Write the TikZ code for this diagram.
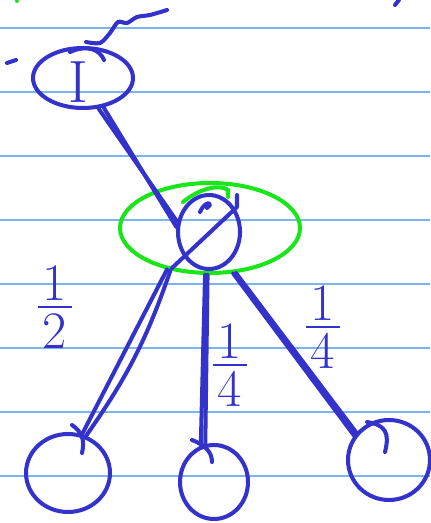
\documentclass[tikz,border=0pt]{standalone}
\usepackage{amsmath}
\usetikzlibrary{shapes.geometric,calc,positioning}
\definecolor{ink}{RGB}{51,51,204}
\definecolor{marker}{RGB}{25,230,25}
\definecolor{ruled}{RGB}{125,180,240}
\newcommand{\handfrac}[2]{\vbox{\hbox to 0.65em{\hss#1\hss}\kern3pt\hrule height 1.4pt\kern3pt\hbox to 0.65em{\hss#2\hss}}}

\begin{document}
\begin{tikzpicture}[
    x=0.02cm, y=-0.02cm,
    pen/.style={ink, line width=2.3pt, line cap=round, line join=round},
    blob/.style={draw=ink, line width=2.3pt, ellipse, inner sep=0pt},
    hilite/.style={draw=marker, line width=2.3pt, ellipse, inner sep=0pt},
    frac/.style={ink, inner sep=0pt, font=\fontsize{30}{32}\selectfont},
    ruleline/.style={ruled, line width=1.1pt}
  ]
  \useasboundingbox (0,0) rectangle (430,523);
  % paper rules
  \foreach \y in {28,92,...,476}
    \draw[ruleline] (0,\y) -- (430,\y);

  % nodes
  \node[blob, minimum width=2cm, minimum height=1.2cm] (top) at (83,78) {};
  \node[ink, font=\fontsize{34}{34}\selectfont] (topI) at (78,82) {I};
  \node[hilite, minimum width=3.6cm, minimum height=1.8cm] (mid) at (210,228) {};
  \node[blob, minimum width=1.24cm, minimum height=1.48cm] (mido) at (209,232) {};
  \node[blob, minimum width=1.68cm, minimum height=1.56cm] (left) at (68,473) {};
  \node[blob, minimum width=1.36cm, minimum height=1.48cm] (centre) at (214,482) {};
  \node[blob, minimum width=1.64cm, minimum height=1.6cm] (right) at (389,460) {};

  % labels
  \node[frac] (wl) at (55,307) {\handfrac{1}{2}};
  \node[frac] (wc) at (230,365) {\handfrac{1}{4}};
  \node[frac] (wr) at (323,327) {\handfrac{1}{4}};

  % connectors (scribbled twice)
  \draw[pen] (top.-63) -- (mido.162);
  \draw[pen] (top.-55) -- (mido.171);
  \draw[pen] (mid.-136) -- (left.70);
  \draw[pen] (mid.-133) to[bend left=8] (left.64);
  \draw[pen] (mid.-96) -- (centre.110);
  \draw[pen] (mid.-93) -- (centre.103);
  \draw[pen] (mid.-60) -- (right.140);
  \draw[pen] (mid.-63) -- (right.145);

  % loose pen marks
  \draw[pen] plot[smooth] coordinates {(86,42) (100,43) (110,33) (118,22) (127,23) (137,17) (150,15) (167,10)};
  \draw[pen] (70,52) .. controls (88,44) and (100,50) .. (104,60);
  \draw[pen] (172,268) -- (237,207) -- (237,195);
  \draw[pen] (200,212) .. controls (205,200) and (215,202) .. (207,208);
  \draw[marker, line width=2.3pt, line cap=round] (183,202) .. controls (200,188) and (220,184) .. (228,190) -- (228,197);
  \draw[pen] (72,425) .. controls (82,432) and (85,440) .. (82,453);
  \draw[pen] (367,422) .. controls (385,425) and (390,432) .. (385,452);
  \draw[pen] (192,440) .. controls (205,445) and (212,452) .. (212,462);
  \draw[pen] (7,63) -- (16,60);
  \draw[pen] (395,5) -- (399,0);
  \fill[marker] (17,1) circle (2);
\end{tikzpicture}
\end{document}
